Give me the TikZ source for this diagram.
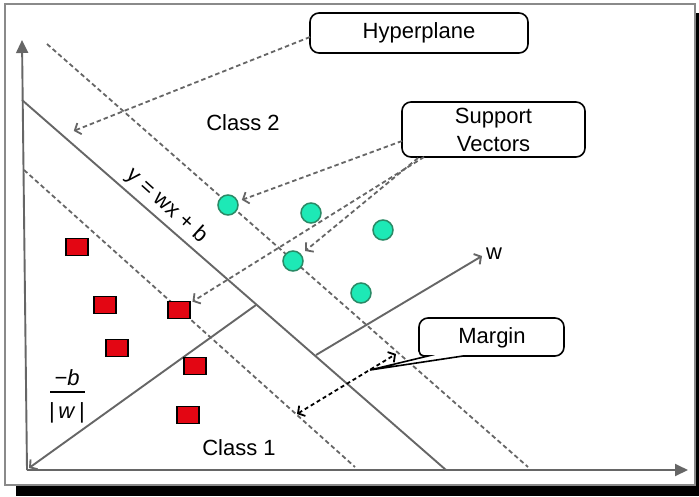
\documentclass[tikz,border=0pt]{standalone}
\usepackage{fontspec}
\setmainfont{Liberation Sans}
\usetikzlibrary{arrows.meta}
\definecolor{lgray}{HTML}{666666}
\definecolor{framegray}{HTML}{8A8A8A}
\definecolor{svfill}{HTML}{1DE9B6}
\definecolor{svdraw}{HTML}{2A8A66}
\definecolor{sqred}{HTML}{E30613}
\begin{document}
\begin{tikzpicture}[x=1pt,y=-1pt,
  font=\fontsize{22}{26}\selectfont,
  barb/.tip={Straight Barb[length=5pt,width=12pt]},
  axisline/.style={draw=lgray,line width=1.9pt,-{Triangle[length=13pt,width=12pt]}},
  solidline/.style={draw=lgray,line width=1.9pt},
  dashline/.style={draw=lgray,line width=1.8pt,dash pattern=on 4.5pt off 3pt},
  ptr/.style={dashline,-barb,shorten >=3pt},
  svdot/.style={circle,minimum size=20pt,inner sep=0pt,fill=svfill,draw=svdraw,line width=1.5pt},
  sqbox/.style={rectangle,minimum width=22pt,minimum height=17pt,inner sep=0pt,fill=sqred,draw=black,line width=1.5pt},
  labelbox/.style={rectangle,rounded corners=9pt,draw=black,line width=1.6pt,fill=white,align=center,inner sep=0pt},
  plain/.style={inner sep=0pt}
]
\useasboundingbox (0,0) rectangle (699,496);
% shadow and frame
\fill[black] (16,13) rectangle (699,496);
\draw[framegray,line width=1.5pt,fill=white] (5,4) rectangle (695,485);

% coordinates
\coordinate (O) at (27,470);
\coordinate (ytop) at (22,40);
\coordinate (xend) at (688,470);
\coordinate (hp1) at (22,100);
\coordinate (hp2) at (446,470);
\coordinate (u1) at (47,44);
\coordinate (u2) at (528,467);
\coordinate (l1) at (24,170);
\coordinate (l2) at (355,467);
\coordinate (w1) at (29,468);
\coordinate (w2) at (256,305);
\coordinate (w3) at (316,355);
\coordinate (w4) at (482,256);
\coordinate (m1) at (297,414);
\coordinate (m2) at (396,354);

% axes
\draw[axisline] (O) -- (ytop);
\draw[axisline] (O) -- (xend);

% hyperplane and margins
\draw[solidline] (hp1) -- (hp2);
\draw[dashline] (u1) -- (u2);
\draw[dashline] (l1) -- (l2);

% w vector
\draw[solidline,barb-] (w1) -- (w2);
\draw[solidline,-barb] (w3) -- (w4);
\node[plain,anchor=west] (wlab) at (486,254) {w};

% margin arrow
\draw[black,line width=1.8pt,dash pattern=on 4pt off 3pt,barb-barb] (m1) -- (m2);

% support vectors (class 2)
\node[svdot] (c1) at (228,205) {};
\node[svdot] (c2) at (311,213) {};
\node[svdot] (c3) at (383,230) {};
\node[svdot] (c4) at (293,261) {};
\node[svdot] (c5) at (361,293) {};

% class 1 squares
\node[sqbox] (s1) at (77,247) {};
\node[sqbox] (s2) at (105,305) {};
\node[sqbox] (s3) at (179,310) {};
\node[sqbox] (s4) at (117,348) {};
\node[sqbox] (s5) at (195,366) {};
\node[sqbox] (s6) at (188,415) {};

% texts
\node[plain] (cl2) at (243,123) {Class 2};
\node[plain] (cl1) at (239,448) {Class 1};
\node[plain,rotate=-42] (eq) at (167,206) {y = wx + b};
\node[plain] (fnum) at (67,378) {\textit{−b}};
\draw[black,line width=1.8pt] (50,392) -- (85,392);
\node[plain] (fden) at (67,413) {|\,\textit{w}\,|};

% label boxes
\node[labelbox,minimum width=218pt,minimum height=40pt] (hyp) at (419,33) {Hyperplane};
\node[labelbox,minimum width=183pt,minimum height=55pt] (sv) at (493.5,129.5) {Support\\[2pt]Vectors};

% margin callout
\draw[black,line width=1.6pt,fill=white]
  (370,370) -- (463,356) [rounded corners=9pt] -- (564,356) -- (564,318) -- (419,318)
  [rounded corners=5pt] -- (419,356) [sharp corners] -- (428,356) -- cycle;
\node[plain] (mar) at (492,338) {Margin};

% pointers
\coordinate (hypS) at (310,37);
\coordinate (svA) at (402,141);
\coordinate (svB) at (418,158);
\coordinate (svC) at (424,157);
\draw[ptr] (hypS) -- (71,132);
\draw[ptr,shorten >=4pt] (svA) -- (c1);
\draw[ptr,shorten >=5pt] (svB) -- (c4);
\draw[ptr,shorten >=2pt] (svC) -- (s3);
\end{tikzpicture}
\end{document}
